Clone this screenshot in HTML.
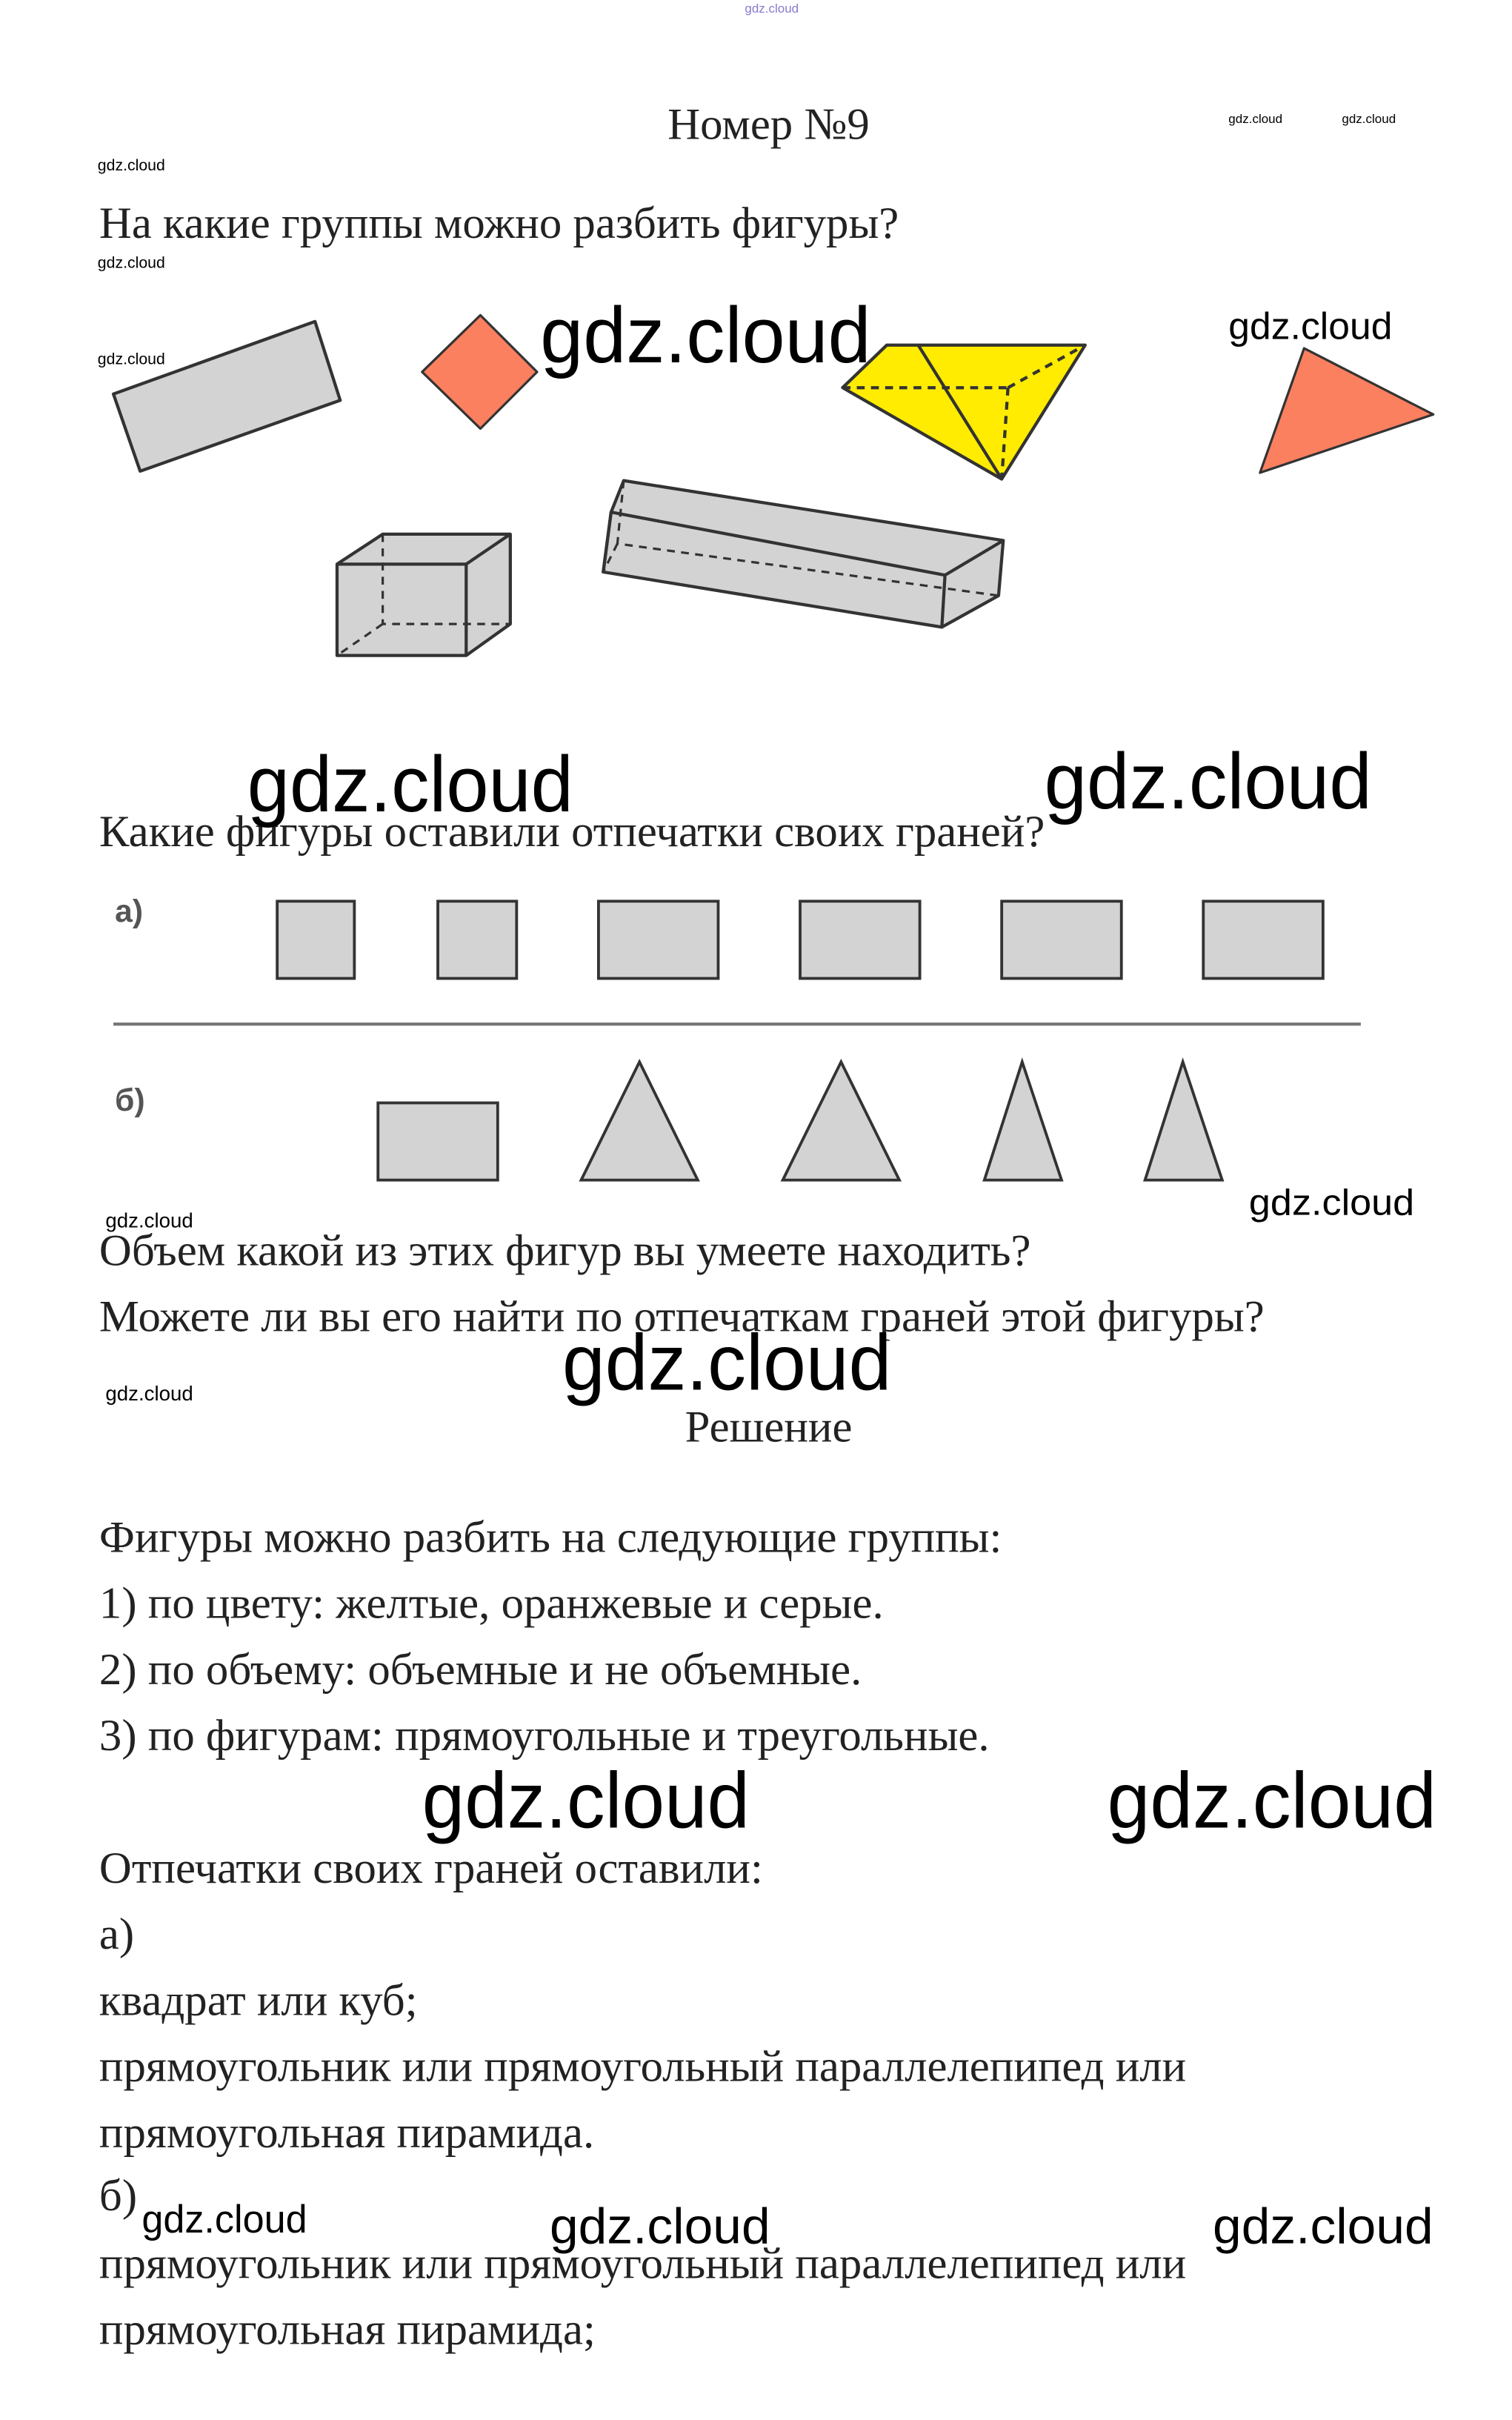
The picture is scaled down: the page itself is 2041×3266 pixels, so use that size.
<!DOCTYPE html>
<html><head><meta charset="utf-8"><style>
html,body{margin:0;padding:0;background:#fff;}
svg{display:block;}
.t{font-family:"Liberation Serif","DejaVu Serif",serif;font-size:28.6px;fill:#222;}
.w{font-family:"Liberation Sans","DejaVu Sans",sans-serif;fill:#000;}
.l{font-family:"Liberation Sans","DejaVu Sans",sans-serif;font-size:20px;fill:#555;font-weight:bold;}
</style></head><body>
<svg width="2041" height="3266" viewBox="0 0 960 1536" xmlns="http://www.w3.org/2000/svg">
<rect width="960" height="1536" fill="#fff"/>
<text x="490" y="8" class="w" font-size="8" text-anchor="middle" style="fill:#8a7ad0">gdz.cloud</text>
<text x="488" y="88" class="t" text-anchor="middle">Номер №9</text>
<text x="780" y="78" class="w" font-size="8">gdz.cloud</text>
<text x="852" y="78" class="w" font-size="8">gdz.cloud</text>
<text x="62" y="108" class="w" font-size="10">gdz.cloud</text>
<text x="63" y="151" class="t">На какие группы можно разбить фигуры?</text>
<text x="62" y="170" class="w" font-size="10">gdz.cloud</text>
<text x="62" y="231" class="w" font-size="10">gdz.cloud</text>

<g stroke="#333" stroke-width="2" stroke-linejoin="round">
<polygon points="72,250 200,204 216,254 89,299" fill="#d3d3d3"/>
<polygon points="305,200 341,236 305,272 268,236" fill="#fa8060" stroke-width="1.5"/>
<polygon points="535,246 563,219 689,219 636,304" fill="#ffec00"/>
<line x1="583" y1="219" x2="636" y2="304"/>
<g stroke-dasharray="5,4"><line x1="535" y1="246" x2="640" y2="246"/><line x1="640" y1="246" x2="636" y2="304"/><line x1="640" y1="246" x2="689" y2="219"/></g>
<polygon points="828,221 910,263 800,300" fill="#fa8060" stroke-width="1.5"/>
<polygon points="214,358 243,339 324,339 324,396 296,416 214,416" fill="#d3d3d3"/>
<polyline points="214,358 296,358 324,339" fill="none"/>
<line x1="296" y1="358" x2="296" y2="416"/>
<g stroke-dasharray="5,4" stroke-width="1.5"><polyline points="243,339 243,396 324,396" fill="none"/><line x1="243" y1="396" x2="214" y2="416"/></g>
<polygon points="388,325 396,305 637,343 634,378 598,398 383,363" fill="#d3d3d3"/>
<polyline points="388,325 600,365 637,343" fill="none"/>
<line x1="600" y1="365" x2="598" y2="398"/>
<line x1="388" y1="325" x2="383" y2="363"/>
<g stroke-dasharray="5,4" stroke-width="1.5"><polyline points="396,305 392,345 634,378" fill="none"/><line x1="392" y1="345" x2="383" y2="363"/></g>
</g>

<text x="343" y="230" class="w" font-size="50" textLength="210" lengthAdjust="spacingAndGlyphs">gdz.cloud</text>
<text x="780" y="215" class="w" font-size="24" textLength="104" lengthAdjust="spacingAndGlyphs">gdz.cloud</text>
<text x="63" y="537" class="t">Какие фигуры оставили отпечатки своих граней?</text>
<text x="157" y="515" class="w" font-size="50" textLength="207" lengthAdjust="spacingAndGlyphs">gdz.cloud</text>
<text x="663" y="513" class="w" font-size="50" textLength="208" lengthAdjust="spacingAndGlyphs">gdz.cloud</text>

<text x="73" y="585" class="l">а)</text>
<text x="73" y="705" class="l">б)</text>
<g fill="#d3d3d3" stroke="#333" stroke-width="1.8">
<rect x="176" y="572" width="49" height="49"/>
<rect x="278" y="572" width="50" height="49"/>
<rect x="380" y="572" width="76" height="49"/>
<rect x="508" y="572" width="76" height="49"/>
<rect x="636" y="572" width="76" height="49"/>
<rect x="764" y="572" width="76" height="49"/>
<rect x="240" y="700" width="76" height="49"/>
<polygon points="406,674 443,749 369,749"/>
<polygon points="534,674 571,749 497,749"/>
<polygon points="649,674 674,749 625,749"/>
<polygon points="751,674 776,749 727,749"/>
</g>
<line x1="72" y1="650" x2="864" y2="650" stroke="#777" stroke-width="2"/>

<text x="67" y="779" class="w" font-size="13">gdz.cloud</text>
<text x="793" y="771" class="w" font-size="23" textLength="105" lengthAdjust="spacingAndGlyphs">gdz.cloud</text>
<text x="63" y="803" class="t">Объем какой из этих фигур вы умеете находить?</text>
<text x="63" y="845" class="t">Можете ли вы его найти по отпечаткам граней этой фигуры?</text>
<text x="357" y="882" class="w" font-size="50" textLength="209" lengthAdjust="spacingAndGlyphs">gdz.cloud</text>
<text x="67" y="889" class="w" font-size="13">gdz.cloud</text>
<text x="488" y="915" class="t" text-anchor="middle">Решение</text>

<text x="63" y="985" class="t">Фигуры можно разбить на следующие группы:</text>
<text x="63" y="1027" class="t">1) по цвету: желтые, оранжевые и серые.</text>
<text x="63" y="1069" class="t">2) по объему: объемные и не объемные.</text>
<text x="63" y="1111" class="t">3) по фигурам: прямоугольные и треугольные.</text>
<text x="268" y="1160" class="w" font-size="50" textLength="208" lengthAdjust="spacingAndGlyphs">gdz.cloud</text>
<text x="703" y="1160" class="w" font-size="50" textLength="209" lengthAdjust="spacingAndGlyphs">gdz.cloud</text>
<text x="63" y="1195" class="t">Отпечатки своих граней оставили:</text>
<text x="63" y="1237" class="t">а)</text>
<text x="63" y="1279" class="t">квадрат или куб;</text>
<text x="63" y="1321" class="t">прямоугольник или прямоугольный параллелепипед или</text>
<text x="63" y="1363" class="t">прямоугольная пирамида.</text>
<text x="63" y="1403" class="t">б)</text>
<text x="90" y="1417" class="w" font-size="25" textLength="105" lengthAdjust="spacingAndGlyphs">gdz.cloud</text>
<text x="349" y="1424" class="w" font-size="32" textLength="140" lengthAdjust="spacingAndGlyphs">gdz.cloud</text>
<text x="770" y="1424" class="w" font-size="32" textLength="140" lengthAdjust="spacingAndGlyphs">gdz.cloud</text>
<text x="63" y="1446" class="t">прямоугольник или прямоугольный параллелепипед или</text>
<text x="63" y="1488" class="t">прямоугольная пирамида;</text>
</svg>
</body></html>
